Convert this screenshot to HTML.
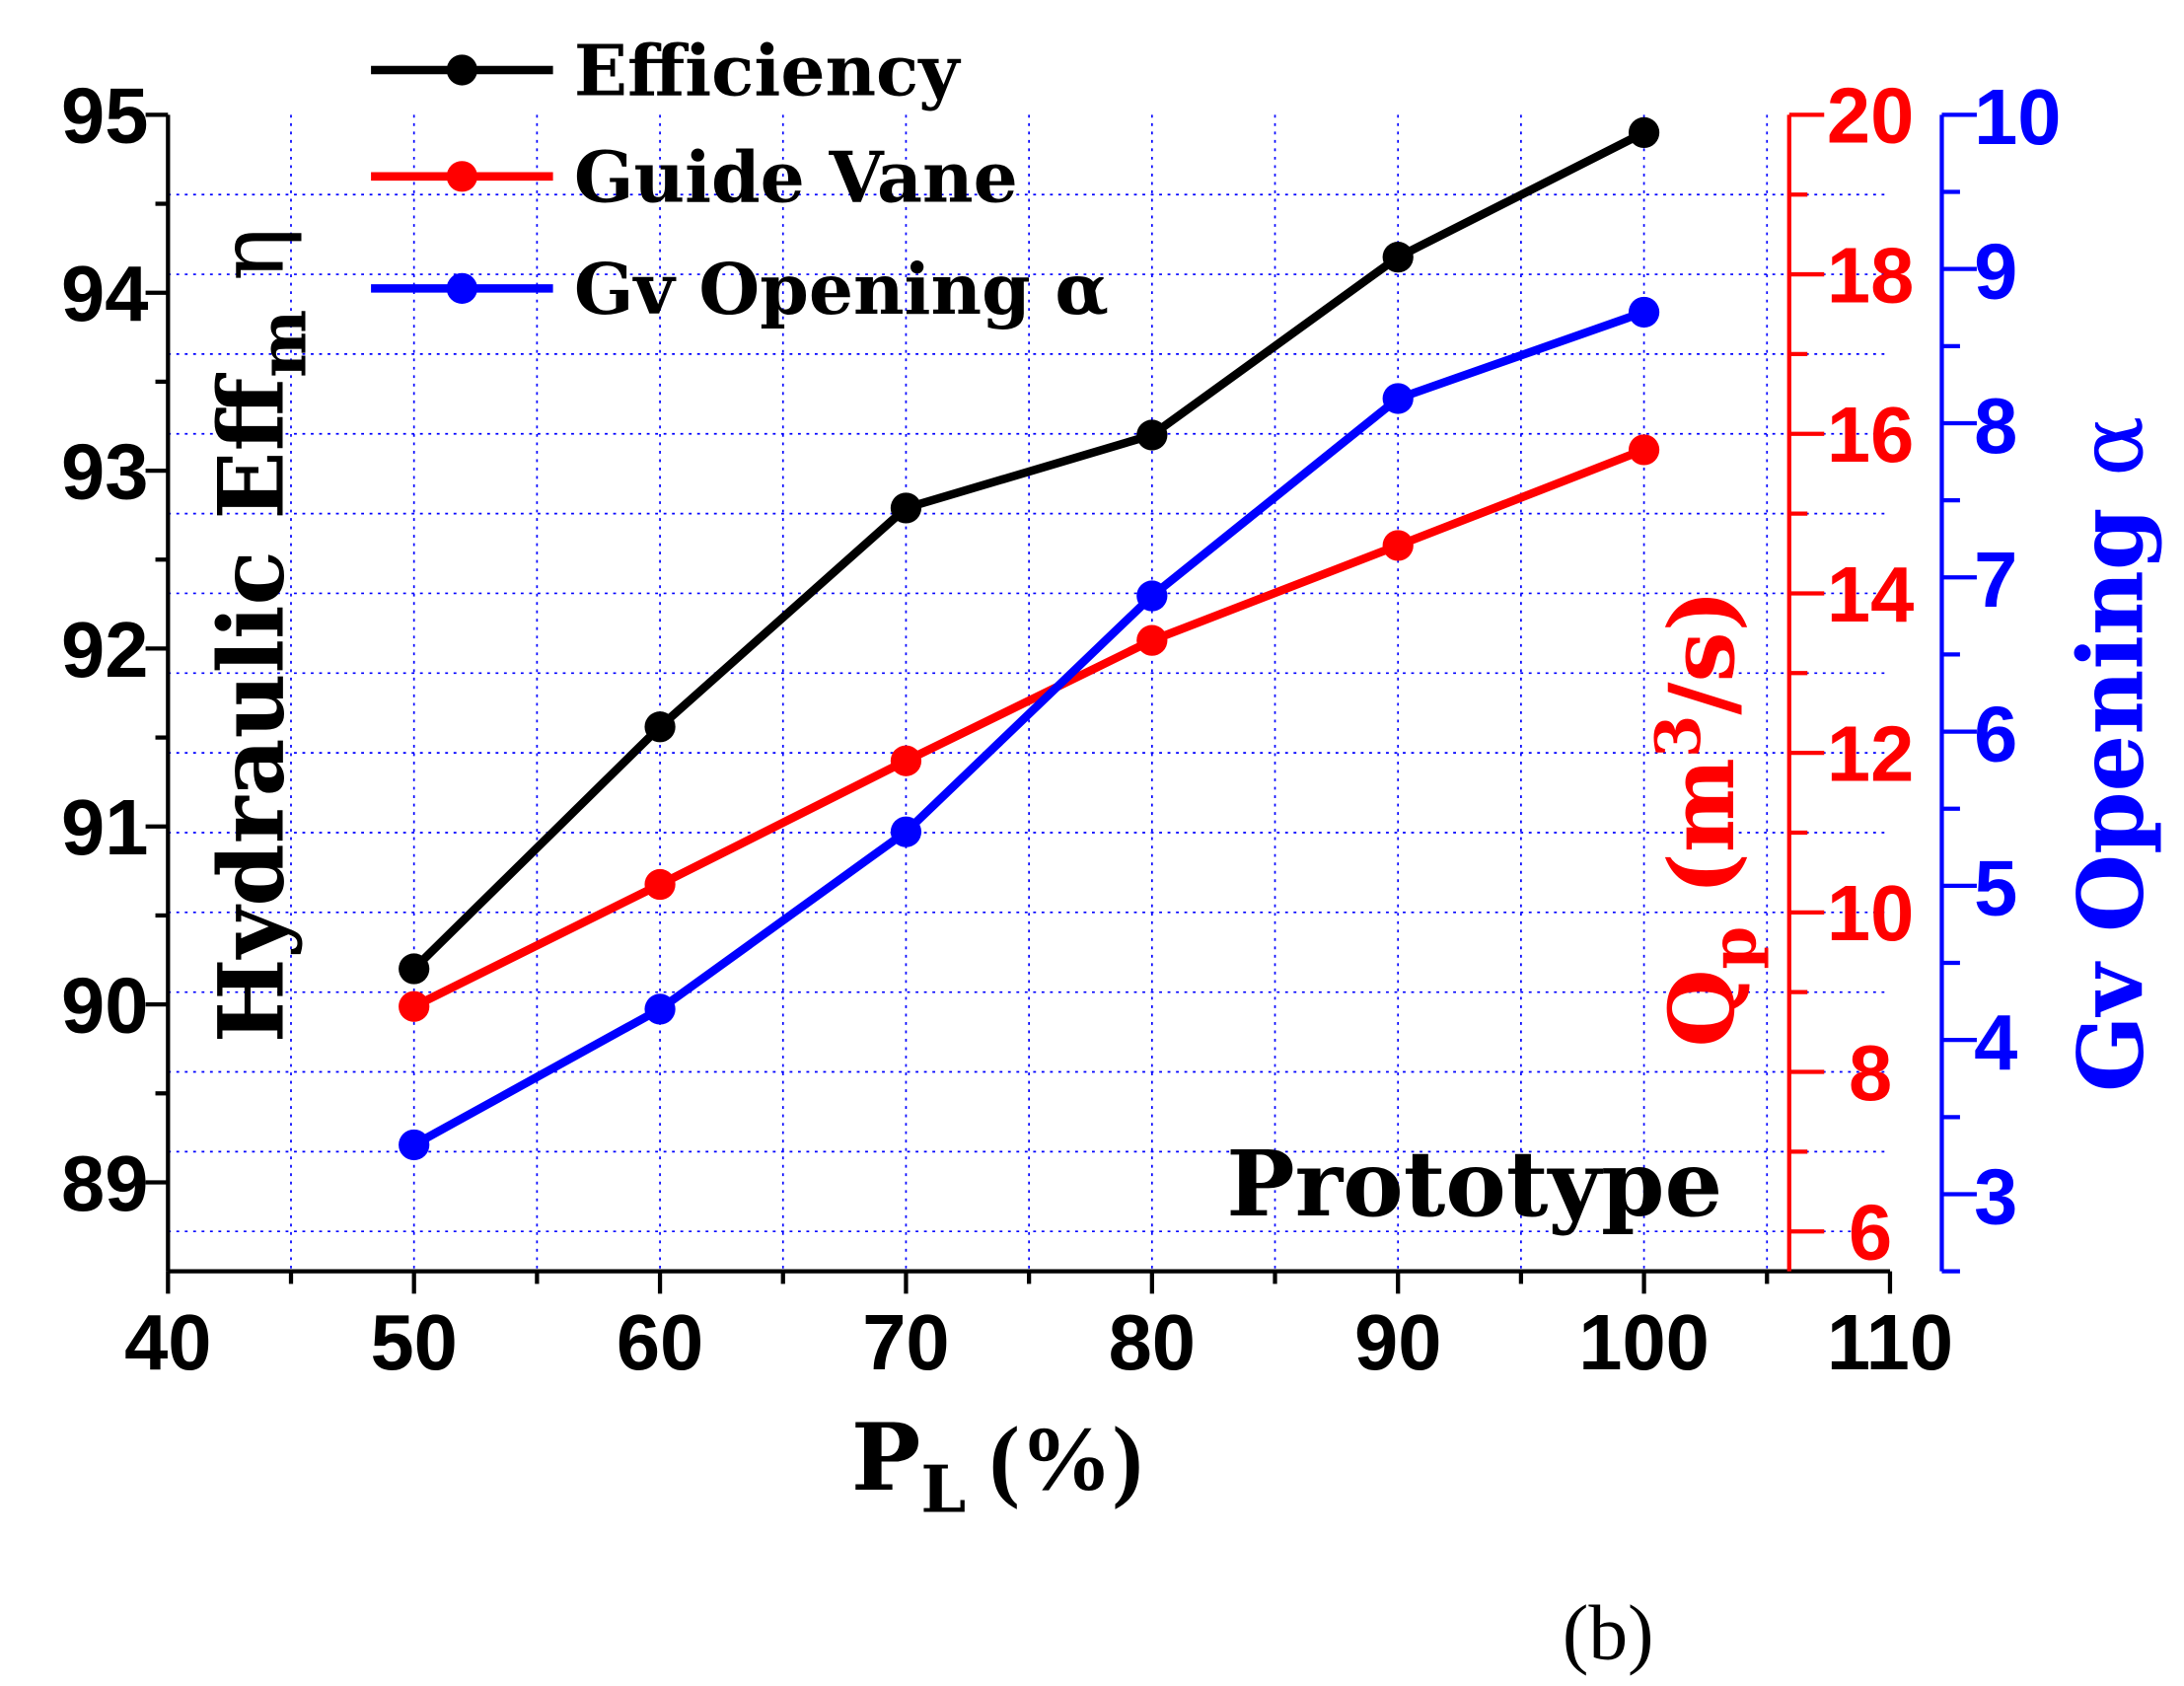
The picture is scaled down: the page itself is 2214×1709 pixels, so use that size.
<!DOCTYPE html>
<html><head><meta charset="utf-8"><style>
html,body{margin:0;padding:0;background:#fff;}
svg{display:block;}
.tk{font-family:"Liberation Sans Narrow","Liberation Sans",sans-serif;font-weight:bold;font-size:56px;}
.lb{font-family:"DejaVu Serif","Liberation Serif",serif;font-weight:bold;}
</style></head><body>
<svg id="chart" width="2214" height="1709" viewBox="0 0 1560 1204.2" preserveAspectRatio="none" xmlns="http://www.w3.org/2000/svg">
<g id="grid"></g>
<g id="axes"></g>
<g id="series"></g>
<g id="legend"></g>
<text class="lb" transform="translate(202,745) rotate(-90)" font-size="64">Hydraulic Eff<tspan font-size="46" dy="16">m</tspan><tspan dy="-16" font-weight="normal" font-family="DejaVu Serif,serif"> η</tspan></text>
<text class="lb" fill="#ff0000" transform="translate(1238,748) rotate(-90)" font-size="64">Q<tspan font-size="44" dy="16">p</tspan><tspan dy="-16"> (m</tspan><tspan font-size="44" dy="-24">3</tspan><tspan dy="24">/s)</tspan></text>
<text class="lb" fill="#0000ff" transform="translate(1530,780) rotate(-90)" font-size="64">Gv Opening <tspan font-weight="normal">α</tspan></text>
<text class="lb" x="608" y="1064" font-size="66">P<tspan font-size="46" dy="16">L</tspan><tspan dy="-16" font-family="Liberation Serif,serif"> (%)</tspan></text>
<text class="lb" x="876" y="868" font-size="65">Prototype</text>
<text x="1116" y="1185" font-family="Liberation Serif,serif" font-size="56">(b)</text>
</svg>
<script>
const xCats=[50,60,70,80,90,100];
const effVals=[90.2,91.56,92.79,93.2,94.2,94.9];
const gvFlowVals=[8.82,10.35,11.9,13.41,14.6,15.8];
const gvOpenVals=[3.32,4.2,5.35,6.88,8.16,8.72];
const xTicks=[40,50,60,70,80,90,100,110];
const yTicks=[89,90,91,92,93,94,95];
const redTicks=[6,8,10,12,14,16,18,20];
const blueTicks=[3,4,5,6,7,8,9,10];
const legendLabels=["Efficiency","Guide Vane","Gv Opening α"];

const NS="http://www.w3.org/2000/svg";
const L=120,R=1350,T=82,B=908;
const xs=v=>L+(v-40)/70*(R-L);
const yl=v=>B-(v-88.5)/6.5*(B-T);
const yr=v=>B-(v-5.5)/14.5*(B-T);
const yb=v=>B-(v-2.5)/7.5*(B-T);
const RX=1278,BX=1387;
function mk(tag,attrs,parent,txt){const e=document.createElementNS(NS,tag);for(const k in attrs)e.setAttribute(k,attrs[k]);if(txt!==undefined)e.textContent=txt;parent.appendChild(e);return e;}
const grid=document.getElementById('grid'),axes=document.getElementById('axes'),ser=document.getElementById('series'),leg=document.getElementById('legend');
for(let v=45;v<=105;v+=5){const g=mk('line',{x1:xs(v),x2:xs(v),y1:T,y2:B,stroke:'#0000ff','stroke-width':1.2,'stroke-dasharray':'2,4'},grid);

}
for(let v=6;v<=19;v+=1){const g=mk('line',{x1:L,x2:R,y1:yr(v),y2:yr(v),stroke:'#0000ff','stroke-width':1.2,'stroke-dasharray':'2,4'},grid);

}
let a=mk('line',{x1:L,x2:L,y1:T,y2:B,stroke:'#000','stroke-width':3},axes);


a=mk('line',{x1:L,x2:R,y1:B,y2:B,stroke:'#000','stroke-width':3},axes);


a=mk('line',{x1:RX,x2:RX,y1:T,y2:B,stroke:'#ff0000','stroke-width':3},axes);


a=mk('line',{x1:BX,x2:BX,y1:T,y2:B,stroke:'#0000ff','stroke-width':3},axes);


for(let v=40;v<=110;v+=5){const maj=v%10===0;mk('line',{x1:xs(v),x2:xs(v),y1:B,y2:B+(maj?16:9),stroke:'#000','stroke-width':3},axes);}
xTicks.forEach(v=>{const t=mk('text',{x:xs(v),y:978,'text-anchor':'middle',class:'tk'},axes,v);

});
for(let v=89;v<=95;v+=0.5){const maj=v%1===0;mk('line',{x1:L,x2:L-(maj?16:9),y1:yl(v),y2:yl(v),stroke:'#000','stroke-width':3},axes);}
yTicks.forEach(v=>{const t=mk('text',{x:106,y:yl(v)+20,'text-anchor':'end',class:'tk'},axes,v);

});
for(let v=6;v<=20;v+=1){const maj=v%2===0;mk('line',{x1:RX,x2:RX+(maj?25:13),y1:yr(v),y2:yr(v),stroke:'#ff0000','stroke-width':3},axes);}
redTicks.forEach(v=>{const t=mk('text',{x:1336,y:yr(v)+20,'text-anchor':'middle',class:'tk',fill:'#ff0000'},axes,v);

});
for(let v=2.5;v<=10;v+=0.5){const maj=v%1===0;mk('line',{x1:BX,x2:BX+(maj?25:13),y1:yb(v),y2:yb(v),stroke:'#0000ff','stroke-width':3},axes);}
blueTicks.forEach(v=>{const t=mk('text',{x:1410,y:yb(v)+21,'text-anchor':'start',class:'tk',fill:'#0000ff','font-size':60},axes,v);

});
function drawSeries(vals,yf,col,name){
 const pts=xCats.map((x,i)=>xs(x)+','+yf(vals[i])).join(' ');
 const p=mk('polyline',{points:pts,fill:'none',stroke:col,'stroke-width':6,'stroke-linejoin':'round'},ser);
 
 
 xCats.forEach((x,i)=>{const c=mk('circle',{cx:xs(x),cy:yf(vals[i]),r:11,fill:col},ser);
 
 });
}
drawSeries(effVals,yl,'#000000','efficiency');
drawSeries(gvFlowVals,yr,'#ff0000','guide-vane');
drawSeries(gvOpenVals,yb,'#0000ff','gv-opening');
const lcols=['#000000','#ff0000','#0000ff'],ly=[50,126,206];
legendLabels.forEach((s,i)=>{
 mk('line',{x1:265,x2:395,y1:ly[i],y2:ly[i],stroke:lcols[i],'stroke-width':6},leg);
 mk('circle',{cx:330,cy:ly[i],r:11,fill:lcols[i]},leg);
 const t=mk('text',{x:410,y:ly[i]+18,class:'lb','font-size':50},leg,s);
 
 
});
</script>
</body></html>
